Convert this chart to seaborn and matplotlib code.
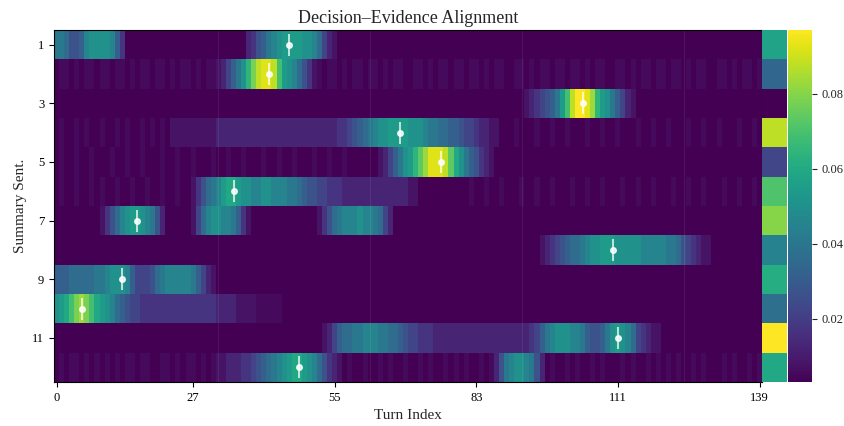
import matplotlib

matplotlib.use("Agg")
import matplotlib.pyplot as plt
import numpy as np
import seaborn as sns

# Each row is coded one character per turn, 14 blocks of 10.
# A base 36 digit k is level k, "." is a half level (faint stripes).
# Level k means an alignment weight of VMIN + k * LEVEL_STEP.
VMIN = 0.0032
VMAX = 0.097
LEVEL_STEP = (VMAX - VMIN) / 20

ROW_LEVELS = [
    "8875569AAA A963000000 0000000000 0000000023 5689ABBBBA A974210000 0000000000 "
    "0000000000 0000000000 0000000000 0000000000 0000000000 0000000000 0000000000",
    "0..0.0..0. .0..0.0..0 ..0.0..0.0 ..12468ADG IJJIEBA975 31.0..0.0. .0..0.0..0 "
    "0..0.0..0. .0..0.0..0 0..0.0..0. .0..0.0..0 0..0.0..0. .0..0.0..0 0..0.0..0.",
    "0000000000 0000000000 0000000000 0000000000 0000000000 0000000000 0000000000 "
    "0000000000 0000000000 0001234568 BEIKKJHDBA 8642100000 0000000000 0000000000",
    "0.00.0.00. 00.0.00.0. 0.01111111 1122222222 2222222222 2222223345 6789AABBBB "
    "AAA9887766 5443221100 0.000.00.0 0.000.00.0 0.000.00.0 0.000.00.0 0.000.00.0",
    "0.00.00.00 0.00.00.00 0.00.00.00 0.00.00.00 0.00.00.00 0.00.00.00 000012468A "
    "BDFHJJJIFC A865321000 0000000000 0000000000 0000000000 0000000000 0000000000",
    "0.00.00.0. 00.00.00.0 0.00.00135 789BCCBAA9 9AA9998876 5544333222 2222222222 "
    "1100000000 00.00.00.0 00.00.00.0 00.00.00.0 00.00.00.0 00.00.00.0 00.00.00.0",
    "0000000001 3579ABBA98 5200000147 9AA9986310 0000000000 0013578999 A998742000 "
    "0000000000 0000000000 0000000000 0000000000 0000000000 0000000000 0000000000",
    "0000000000 0000000000 0000000000 0000000000 0000000000 0000000000 0000000000 "
    "0000000000 0000000000 0000001234 567789AABB BAAAAA9999 9887543211 0000000000",
    "6667777788 9AAA964445 7899999864 2100000000 0000000000 0000000000 0000000000 "
    "0000000000 0000000000 0000000000 0000000000 0000000000 0000000000 0000000000",
    "ABCEGHGECB A976544333 3333333333 3322221111 .....00000 0000000000 0000000000 "
    "0000000000 0000000000 0000000000 0000000000 0000000000 0000000000 0000000000",
    "0000000000 0000000000 0000000000 0000000000 0000000000 0001246778 8999887765 "
    "4433322222 2222222222 222234689A AA99865568 ABA9743211 0000000000 0000000000",
    "0.0..0.0.0 .0.0..0..0 0..0.0..0. 0.11222334 56789ABCCB A9753210.0 0.00.0.00. "
    "00.0.00.0. 0.00.0.258 9AA98520.0 0.0.00.0.0 00.0.00.0. 0.0.00.0.0 00.0.00.0.",
]

# turn with the strongest evidence for each summary sentence
PEAK_TURNS = [46, 42, 104, 68, 76, 35, 16, 110, 13, 5, 111, 48]
PEAK_SPREAD = 0.38

# per-sentence score shown in the narrow strip (own 0..1 scale)
SENTENCE_SCORES = [0.58, 0.33, 0.0, 0.9, 0.21, 0.72, 0.82, 0.44, 0.62, 0.36, 1.0, 0.6]

SEGMENT_BREAKS = [32, 62, 92, 124]

X_TICKS = [0, 27, 55, 83, 111, 139]
Y_TICKS = [1, 3, 5, 7, 9, 11]
CBAR_TICKS = [0.02, 0.04, 0.06, 0.08]


def decode_level(ch):
    return 0.5 if ch == "." else int(ch, 36)


def decode_rows(rows):
    return np.array(
        [[VMIN + decode_level(ch) * LEVEL_STEP for ch in row.replace(" ", "")]
         for row in rows]
    )


def plot_alignment(output_path="out.png"):
    sns.set_theme(style="ticks")
    plt.rcParams["font.family"] = ["Liberation Serif", "DejaVu Serif"]

    weights = decode_rows(ROW_LEVELS)
    n_rows = weights.shape[0]

    fig = plt.figure(figsize=(8.44, 4.26), dpi=100)
    ax = fig.add_axes([0.064, 0.1033, 0.8389, 0.8263])
    ax_strip = fig.add_axes([0.9028, 0.1033, 0.0296, 0.8263])
    cax = fig.add_axes([0.9336, 0.1033, 0.0284, 0.8263])

    sns.heatmap(
        weights,
        ax=ax,
        cmap="viridis",
        vmin=VMIN,
        vmax=VMAX,
        cbar_ax=cax,
        xticklabels=False,
        yticklabels=False,
    )
    for spine in ax.spines.values():
        spine.set_visible(True)
        spine.set_linewidth(0.8)
        spine.set_color("black")

    for b in SEGMENT_BREAKS:
        ax.axvline(b + 0.5, color="white", alpha=0.07, lw=0.8)

    ax.errorbar(
        np.array(PEAK_TURNS) + 0.5,
        np.arange(n_rows) + 0.5,
        yerr=PEAK_SPREAD,
        fmt="o",
        color="white",
        ms=4,
        elinewidth=1.2,
        capsize=0,
        alpha=0.85,
    )

    ax.set_xticks(np.array(X_TICKS) + 0.5)
    ax.set_xticklabels([str(t) for t in X_TICKS], rotation=0)
    ax.set_yticks(np.array(Y_TICKS) - 0.5)
    ax.set_yticklabels([str(t) for t in Y_TICKS], rotation=0)
    ax.tick_params(axis="both", direction="out", length=3.5, width=0.8,
                   labelsize=9, colors="black", bottom=True, left=True)
    ax.set_xlabel("Turn Index", fontsize=11)
    ax.set_ylabel("Summary Sent.", fontsize=11)
    ax.set_title("Decision\u2013Evidence Alignment", fontsize=13, pad=5)

    sns.heatmap(
        np.array(SENTENCE_SCORES)[:, None],
        ax=ax_strip,
        cmap="viridis",
        vmin=0,
        vmax=1,
        cbar=False,
        xticklabels=False,
        yticklabels=False,
    )
    ax_strip.tick_params(left=False, bottom=False)

    cax.set_yticks(CBAR_TICKS)
    cax.set_yticklabels([f"{t:.2f}" for t in CBAR_TICKS])
    cax.tick_params(labelsize=9, length=3.5, width=0.8, right=True)

    fig.savefig(output_path, dpi=100)
    plt.close(fig)


if __name__ == "__main__":
    plot_alignment()
